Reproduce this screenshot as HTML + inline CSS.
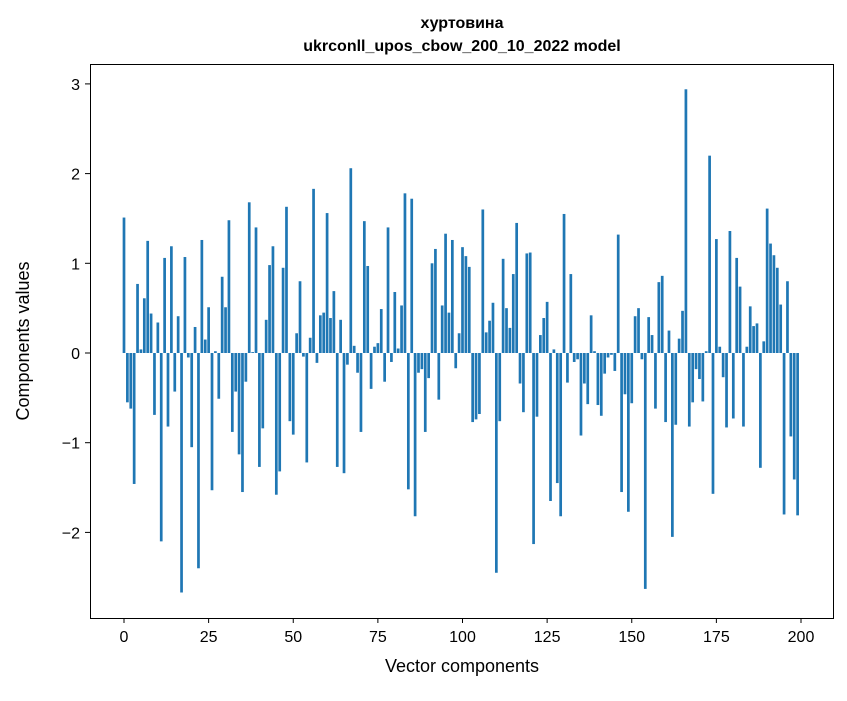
<!DOCTYPE html>
<html><head><meta charset="utf-8"><style>
body{margin:0;background:#fff;}
svg text{font-family:"Liberation Sans","DejaVu Sans",sans-serif;fill:#000;}
</style></head><body>
<svg id="chart" width="847" height="696" viewBox="0 0 847 696" xmlns="http://www.w3.org/2000/svg">
<rect width="847" height="696" fill="#fff"/>
<text x="462" y="28" text-anchor="middle" font-size="16" font-weight="bold">хуртовина</text>
<text x="462" y="51" text-anchor="middle" font-size="16" font-weight="bold">ukrconll_upos_cbow_200_10_2022 model</text>
<g id="bars"></g>
<rect x="90.5" y="64.5" width="743" height="554" fill="none" stroke="#000" stroke-width="1"/>
<g id="xticks"></g>
<g id="yticks"></g>
<text x="462" y="677" text-anchor="middle" font-size="18" dy="-5">Vector components</text>
<text transform="translate(29,341) rotate(-90)" text-anchor="middle" font-size="18">Components values</text>
</svg>
<script>
const values = [1.51,-0.55,-0.62,-1.46,0.77,0.04,0.61,1.25,0.44,-0.69,0.34,-2.1,1.06,-0.82,1.19,-0.43,0.41,-2.67,1.07,-0.05,
-1.05,0.29,-2.4,1.26,0.15,0.51,-1.53,0.02,-0.51,0.85,0.51,1.48,-0.88,-0.43,-1.13,-1.55,-0.32,1.68,0.01,1.4,
-1.27,-0.84,0.37,0.98,1.19,-1.58,-1.32,0.95,1.63,-0.76,-0.91,0.22,0.8,-0.04,-1.22,0.17,1.83,-0.11,0.42,0.45,
1.56,0.39,0.69,-1.27,0.37,-1.34,-0.13,2.06,0.08,-0.22,-0.88,1.47,0.97,-0.4,0.07,0.11,0.49,-0.32,1.4,-0.1,
0.68,0.05,0.53,1.78,-1.52,1.72,-1.82,-0.22,-0.18,-0.88,-0.28,1.0,1.16,-0.52,0.53,1.33,0.45,1.26,-0.17,0.22,
1.18,1.08,0.96,-0.77,-0.74,-0.68,1.6,0.23,0.36,0.56,-2.45,-0.76,1.05,0.5,0.28,0.88,1.45,-0.34,-0.66,1.11,
1.12,-2.13,-0.71,0.2,0.39,0.57,-1.65,0.04,-1.45,-1.82,1.55,-0.33,0.88,-0.1,-0.07,-0.92,-0.34,-0.57,0.42,0.02,
-0.58,-0.7,-0.23,-0.05,-0.02,-0.2,1.32,-1.55,-0.46,-1.77,-0.56,0.41,0.5,-0.07,-2.63,0.4,0.2,-0.62,0.79,0.86,
-0.77,0.25,-2.05,-0.8,0.16,0.47,2.94,-0.82,-0.55,-0.18,-0.29,-0.54,0.02,2.2,-1.57,1.27,0.07,-0.27,-0.83,1.36,
-0.73,1.06,0.74,-0.82,0.07,0.52,0.3,0.33,-1.28,0.13,1.61,1.22,1.09,0.95,0.54,-1.8,0.8,-0.93,-1.41,-1.81];
const xTickLabels = [0,25,50,75,100,125,150,175,200];
const yTickLabels = [-2,-1,0,1,2,3];
const NS = "http://www.w3.org/2000/svg";
function xScale(v){return 124 + v*(801-124)/200;}
function yScale(v){return 353 - v*89.7;}
const bars = document.getElementById('bars');
values.forEach((v,i)=>{
  const r = document.createElementNS(NS,'rect');
  
  
  const x0 = xScale(i-0.4), x1 = xScale(i+0.4);
  const y0 = yScale(Math.max(v,0)), y1 = yScale(Math.min(v,0));
  r.setAttribute('x', x0); r.setAttribute('width', x1-x0);
  r.setAttribute('y', y0); r.setAttribute('height', Math.max(y1-y0,0.3));
  r.setAttribute('fill', '#1f77b4');
  bars.appendChild(r);
});
const xg = document.getElementById('xticks');
xTickLabels.forEach(t=>{
  const x = xScale(t);
  const l = document.createElementNS(NS,'line');
  
  
  l.setAttribute('x1',x);l.setAttribute('x2',x);l.setAttribute('y1',618);l.setAttribute('y2',623);l.setAttribute('stroke','#000');
  xg.appendChild(l);
  const tx = document.createElementNS(NS,'text');
  
  
  tx.setAttribute('x',x);tx.setAttribute('y',642);tx.setAttribute('text-anchor','middle');tx.setAttribute('font-size','16');
  tx.textContent = t;
  xg.appendChild(tx);
});
const yg = document.getElementById('yticks');
yTickLabels.forEach(t=>{
  const y = yScale(t);
  const l = document.createElementNS(NS,'line');
  
  
  l.setAttribute('x1',85);l.setAttribute('x2',90);l.setAttribute('y1',y);l.setAttribute('y2',y);l.setAttribute('stroke','#000');
  yg.appendChild(l);
  const tx = document.createElementNS(NS,'text');
  
  
  tx.setAttribute('x',80);tx.setAttribute('y',y+6);tx.setAttribute('text-anchor','end');tx.setAttribute('font-size','16');
  tx.textContent = t<0 ? '\u2212'+Math.abs(t) : String(t);
  yg.appendChild(tx);
});
</script>
</body></html>
